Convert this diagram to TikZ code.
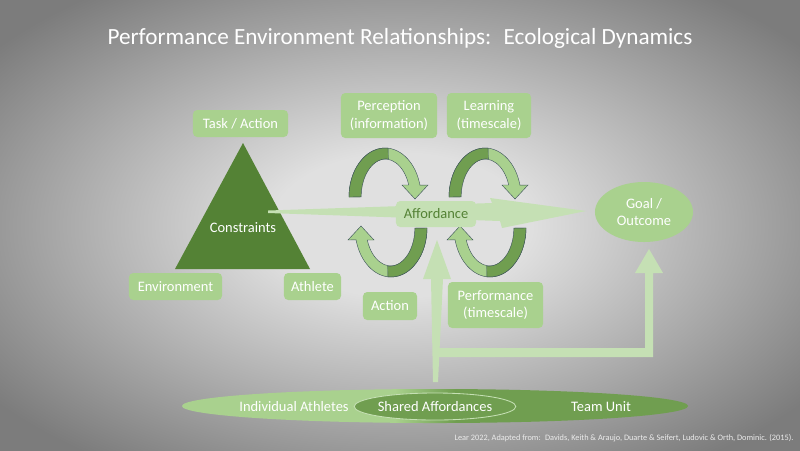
\documentclass[tikz,border=0pt]{standalone}
\usepackage{fontspec}
\setmainfont{Carlito}
\usetikzlibrary{shapes.geometric}

\definecolor{bgin}{RGB}{224,224,224}
\definecolor{bgout}{RGB}{124,124,124}
\definecolor{leaf}{RGB}{169,209,142}
\definecolor{pale}{RGB}{197,224,180}
\definecolor{moss}{RGB}{84,130,53}
\definecolor{fern}{RGB}{112,158,80}
\definecolor{rim}{RGB}{62,84,92}

\pgfdeclareradialshading{slide}{\pgfpoint{0bp}{0bp}}{color(0bp)=(bgin); color(8bp)=(bgin); color(32bp)=(bgout); color(50bp)=(bgout)}
\pgfdeclarehorizontalshading{team}{100bp}{color(0bp)=(leaf); color(46bp)=(leaf); color(52bp)=(fern); color(100bp)=(fern)}

\tikzset{
  box/.style={fill=leaf, rounded corners=3pt, text=white, align=center, inner sep=0pt,
    font=\fontsize{10.3}{12.3}\selectfont},
  band/.style={fill=pale},
  loop arrow/.pic={
    \fill[leaf, draw=rim, line width=0.3pt] (-36,0) arc[start angle=180, end angle=346, x radius=36, y radius=49]
      -- (43,-12) -- (30,2) -- (17,-12) -- (23.7,-12)
      arc[start angle=341.6, end angle=180, x radius=25, y radius=38] -- cycle;
    \fill[fern, draw=rim, line width=0.3pt] (-36,0) arc[start angle=180, end angle=275, x radius=36, y radius=49]
      -- (3.3,-38) arc[start angle=275, end angle=180, x radius=25, y radius=38] -- cycle;
  }
}

\begin{document}
\begin{tikzpicture}[x=0.025cm, y=-0.025cm, font=\fontsize{10.3}{12.3}\selectfont]
  \useasboundingbox (0,0) rectangle (800,450);
  \shade[shading=slide] (0,0) rectangle (800,450);

  \node[text=white, font=\fontsize{16.5}{19}\selectfont] (title) at (400,38) {Performance Environment Relationships: \ Ecological Dynamics};

  % constraints triangle
  \fill[moss] (243,143) -- (310,269) -- (175,269) -- cycle;
  \node[text=white] (constraints) at (243,228) {Constraints};
  \node[box, minimum width=2.375cm, minimum height=0.675cm] (task) at (240.5,123.5) {Task / Action};
  \node[box, minimum width=2.325cm, minimum height=0.675cm] (environment) at (175.5,286.5) {Environment};
  \node[box, minimum width=1.425cm, minimum height=0.675cm] (athlete) at (312.5,286.5) {Athlete};

  % arrows
  \fill[band] (268,210.5) -- (492,203) -- (490,198) -- (586,211) -- (502,228) -- (500,221) -- (268,213) -- cycle;
  \fill[band] (433,382) -- (431,279) -- (423,279) -- (437,240) -- (451,279) -- (443,279) -- (438,382) -- cycle;
  \fill[band] (437,348) -- (645,348) -- (645,273) -- (635,273) -- (649,249) -- (663,273) -- (653,273) -- (653,357) -- (437,357) -- cycle;

  \pic at (385,197) {loop arrow};
  \pic at (485,197) {loop arrow};
  \pic[rotate=180] at (391,228) {loop arrow};
  \pic[rotate=180] at (490,228) {loop arrow};

  \node[box, minimum width=2.4cm, minimum height=1.125cm] (perception) at (389,115.5) {Perception\\(information)};
  \node[box, minimum width=2.1cm, minimum height=1.125cm] (learning) at (489,115.5) {Learning\\(timescale)};
  \node[box, fill=pale, text=moss, minimum width=2cm, minimum height=0.65cm] (affordance) at (436,214) {Affordance};
  \node[box, minimum width=1.35cm, minimum height=0.7cm] (action) at (390,306) {Action};
  \node[box, minimum width=2.375cm, minimum height=1.15cm] (performance) at (495.5,305) {Performance\\(timescale)};
  \node[ellipse, fill=leaf, text=white, align=center, inner sep=0pt, minimum width=2.45cm, minimum height=1.5cm] (goal) at (644,212) {Goal /\\Outcome};

  % team ellipse
  \node[ellipse, shading=team, minimum width=12.65cm, minimum height=0.85cm] (team) at (435,406) {};
  \node[ellipse, fill=fern, draw=pale, line width=0.6pt, text=white, inner sep=0pt, minimum width=3.9cm, minimum height=0.675cm] (shared) at (435,406.5) {Shared Affordances};
  \node[text=white] (individual) at (294,407) {Individual Athletes};
  \node[text=white] (unit) at (601,407) {Team Unit};

  \node[text=gray!15, font=\fontsize{5.9}{7}\selectfont] (source) at (624,438) {Lear 2022, Adapted from: \ Davids, Keith \& Araujo, Duarte \& Seifert, Ludovic \& Orth, Dominic. (2015).};
\end{tikzpicture}
\end{document}
